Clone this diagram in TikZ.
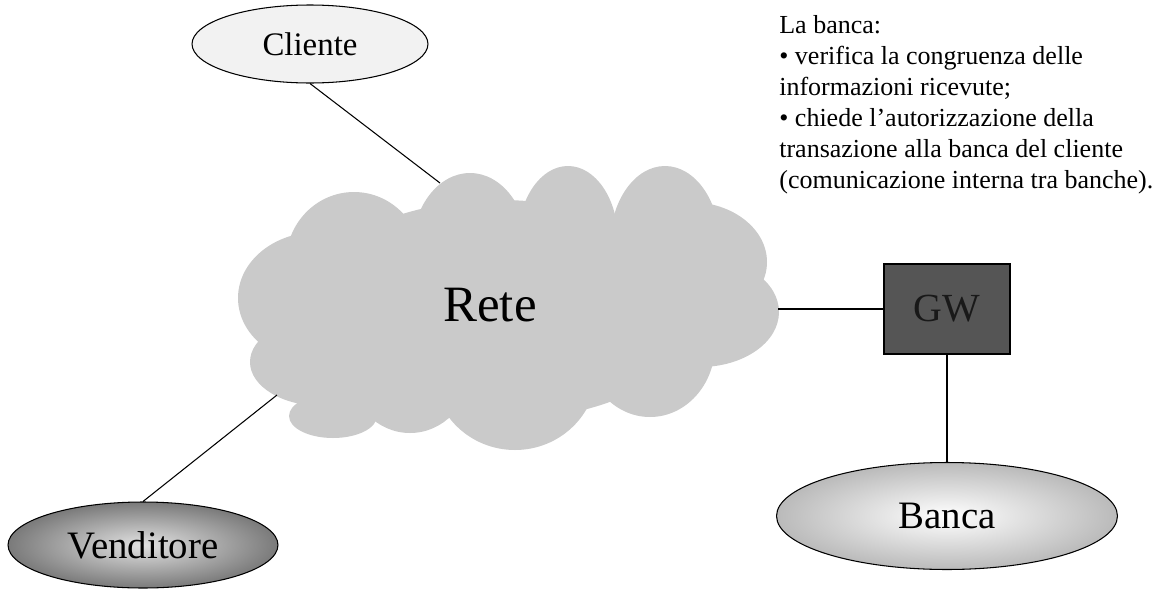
\documentclass[tikz,border=0pt]{standalone}
\usepackage{fontspec}
\setmainfont{Liberation Serif}
\usetikzlibrary{shapes.geometric}

\definecolor{cloudgray}{RGB}{202,202,202}
\definecolor{gwgray}{RGB}{85,85,85}
\definecolor{clientefill}{RGB}{242,242,242}
\definecolor{vendin}{RGB}{226,226,226}
\definecolor{vendout}{RGB}{122,122,122}
\definecolor{bancaout}{RGB}{186,186,186}

\tikzset{
	link/.style={draw=black,line width=0.6pt},
	cliente/.style={ellipse,draw,line width=0.6pt,fill=clientefill,
		minimum width=4.72cm,minimum height=1.56cm,font=\fontsize{18.7pt}{20pt}\selectfont},
	venditore/.style={ellipse,draw,line width=0.6pt,inner color=vendin,outer color=vendout,
		minimum width=5.4cm,minimum height=1.72cm,font=\fontsize{22.1pt}{24pt}\selectfont},
	banca/.style={ellipse,draw,line width=0.6pt,inner color=white,outer color=bancaout,
		minimum width=6.82cm,minimum height=2.14cm,font=\fontsize{22.1pt}{24pt}\selectfont},
	gateway/.style={rectangle,draw,line width=0.6pt,fill=gwgray,text=black!90,
		minimum width=2.52cm,minimum height=1.8cm,font=\fontsize{22.7pt}{24pt}\selectfont},
}

\begin{document}
\begin{tikzpicture}[x=0.02cm,y=-0.02cm]
	\tikzstyle{every node}=[inner sep=0pt]
	\useasboundingbox (0,0) rectangle (1164,589);
	
	% nuvola
	\fill[cloudgray] (500,310) ellipse [x radius=4cm, y radius=2.2cm];
	\foreach \cx/\cy/\rx/\ry in {318/298/80/66, 322/362/72/44, 354/262/68/70,
		470/250/58/77, 568/240/50/74, 665/245/55/79, 690/262/77/60, 700/312/79/55,
		650/345/65/72, 515/370/82/80, 410/370/60/63, 333/416/44/22}
		\fill[cloudgray] (\cx,\cy) ellipse [x radius=\rx*0.02cm, y radius=\ry*0.02cm];
	\node (rete) at (490,305) {\fontsize{29pt}{30pt}\selectfont Rete};
	
	\coordinate (cloudtop) at (440,183);
	\coordinate (cloudleft) at (277,395);
	\coordinate (cloudright) at (778,309);
	
	\node[cliente] (cli) at (310,44) {Cliente};
	\node[venditore] (ven) at (143,545) {Venditore};
	\node[gateway] (gw) at (947,309) {GW};
	\node[banca] (ban) at (947,516) {Banca};
	
	\draw[link] (cli.south) -- (cloudtop);
	\draw[link] (ven.north) -- (cloudleft);
	\draw[link] (cloudright) -- (gw.west);
	\draw[link] (gw.south) -- (ban.north);
	
	\node [anchor=north west,align=left,font=\fontsize{14.8pt}{17.6pt}\selectfont] (nota) at (779,15)
		{La banca:\\
		• verifica la congruenza delle\\
		informazioni ricevute;\\
		• chiede l’autorizzazione della\\
		transazione alla banca del cliente\\
		(comunicazione interna tra banche).};
	
\end{tikzpicture}
\end{document}
